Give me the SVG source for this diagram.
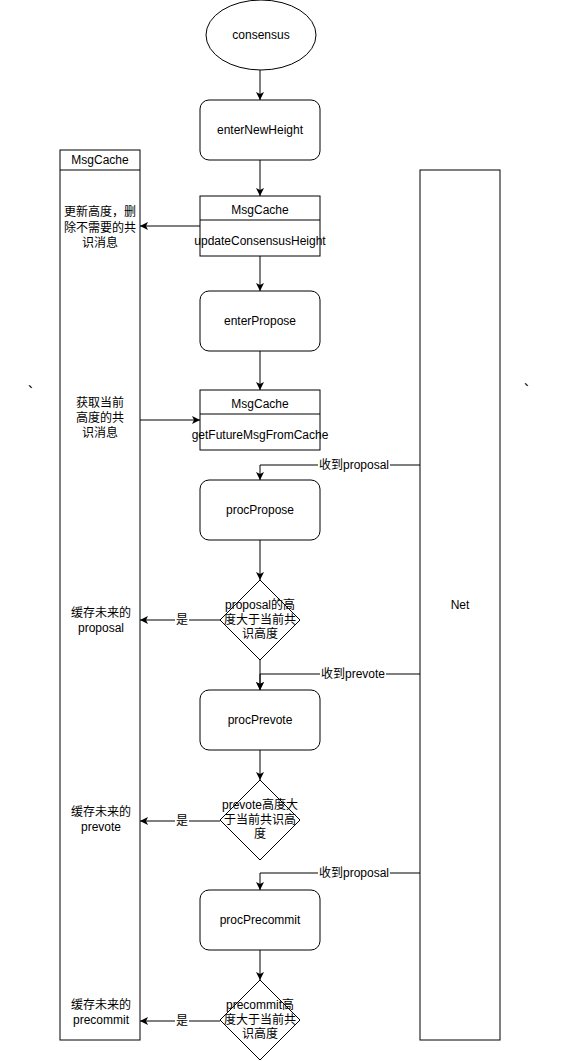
<svg xmlns="http://www.w3.org/2000/svg" width="561" height="1061" viewBox="0 0 561 1061">
<defs>
<marker id="arr" viewBox="0 0 10 10" refX="10" refY="5" markerWidth="8" markerHeight="8" markerUnits="userSpaceOnUse" orient="auto">
<path d="M0,0 L10,5 L0,10 L2.5,5 Z" fill="#000"/>
</marker>
<style>
.s{fill:#fff;stroke:#000;stroke-width:1}
.e{fill:none;stroke:#000;stroke-width:1;marker-end:url(#arr)}
.l{fill:none;stroke:#000;stroke-width:1}
text{font-family:"Liberation Sans","Noto Sans CJK SC",Arial,sans-serif;font-size:12px;fill:#000;text-anchor:middle;dominant-baseline:central}
.lb{fill:#fff;stroke:none}
</style>
</defs>
<rect width="561" height="1061" fill="#fff"/>
<g id="connectors">
<line class="e" x1="260" y1="70" x2="260" y2="100"/>
<line class="e" x1="260" y1="160" x2="260" y2="196"/>
<line class="e" x1="260" y1="256" x2="260" y2="291"/>
<line class="e" x1="260" y1="351" x2="260" y2="390"/>
<line class="e" x1="200" y1="226" x2="140" y2="226"/>
<line class="e" x1="140" y1="420" x2="200" y2="420"/>
<path class="e" d="M420,465 L260,465 L260,480"/>
<rect class="lb" x="318" y="458" width="72" height="14"/>
<text x="354" y="465">收到proposal</text>
<line class="e" x1="260" y1="540" x2="260" y2="580"/>
<line class="e" x1="220" y1="620" x2="140" y2="620"/>
<rect class="lb" x="175" y="613" width="14" height="14"/>
<text x="182" y="620">是</text>
<line class="e" x1="260" y1="660" x2="260" y2="690"/>
<path class="e" d="M420,674 L260,674 L260,690"/>
<rect class="lb" x="320" y="667" width="66" height="14"/>
<text x="353" y="674">收到prevote</text>
<line class="e" x1="260" y1="750" x2="260" y2="780"/>
<line class="e" x1="220" y1="821" x2="140" y2="821"/>
<rect class="lb" x="175" y="814" width="14" height="14"/>
<text x="182" y="821">是</text>
<path class="e" d="M420,873 L260,873 L260,890"/>
<rect class="lb" x="318" y="866" width="72" height="14"/>
<text x="354" y="873">收到proposal</text>
<line class="e" x1="260" y1="950" x2="260" y2="980"/>
<line class="e" x1="220" y1="1021" x2="140" y2="1021"/>
<rect class="lb" x="175" y="1014" width="14" height="14"/>
<text x="182" y="1021">是</text>
</g>
<g id="consensus">
<ellipse class="s" cx="261" cy="35" rx="55" ry="35"/>
<text x="261" y="35">consensus</text>
</g>
<g id="enterNewHeight">
<rect class="s" x="200" y="100" width="120" height="60" rx="9"/>
<text x="260" y="130">enterNewHeight</text>
</g>
<g id="msgcache1">
<rect class="s" x="200" y="196" width="120" height="60"/>
<line class="l" x1="200" y1="220" x2="320" y2="220"/>
<text x="260" y="210">MsgCache</text>
<text x="260" y="241">updateConsensusHeight</text>
</g>
<g id="enterPropose">
<rect class="s" x="200" y="291" width="120" height="60" rx="9"/>
<text x="260" y="321">enterPropose</text>
</g>
<g id="msgcache2">
<rect class="s" x="200" y="390" width="120" height="60"/>
<line class="l" x1="200" y1="414" x2="320" y2="414"/>
<text x="260" y="404">MsgCache</text>
<text x="260" y="435">getFutureMsgFromCache</text>
</g>
<g id="procPropose">
<rect class="s" x="200" y="480" width="120" height="60" rx="9"/>
<text x="260" y="510">procPropose</text>
</g>
<g id="decision1">
<path class="s" d="M260,580 L300,620 L260,660 L220,620 Z"/>
<text x="260" y="605">proposal的高</text>
<text x="260" y="620">度大于当前共</text>
<text x="260" y="634">识高度</text>
</g>
<g id="procPrevote">
<rect class="s" x="200" y="690" width="120" height="60" rx="9"/>
<text x="260" y="720">procPrevote</text>
</g>
<g id="decision2">
<path class="s" d="M260,780 L300,820 L260,860 L220,820 Z"/>
<text x="260" y="805">prevote高度大</text>
<text x="260" y="820">于当前共识高</text>
<text x="260" y="834">度</text>
</g>
<g id="procPrecommit">
<rect class="s" x="200" y="890" width="120" height="60" rx="9"/>
<text x="260" y="920">procPrecommit</text>
</g>
<g id="decision3">
<path class="s" d="M260,980 L300,1020 L260,1060 L220,1020 Z"/>
<text x="260" y="1005">precommit高</text>
<text x="260" y="1020">度大于当前共</text>
<text x="260" y="1034">识高度</text>
</g>
<g id="msgcache-lane">
<rect class="s" x="60" y="150" width="80" height="890"/>
<line class="l" x1="60" y1="170" x2="140" y2="170"/>
<text x="100" y="160">MsgCache</text>
<text x="100" y="212">更新高度，删</text>
<text x="100" y="228">除不需要的共</text>
<text x="100" y="243">识消息</text>
<text x="100" y="403">获取当前</text>
<text x="100" y="418">高度的共</text>
<text x="100" y="433">识消息</text>
<text x="101" y="613">缓存未来的</text>
<text x="101" y="628">proposal</text>
<text x="101" y="812">缓存未来的</text>
<text x="101" y="827">prevote</text>
<text x="101" y="1005">缓存未来的</text>
<text x="101" y="1020">precommit</text>
</g>
<g id="net">
<rect class="s" x="420" y="170" width="80" height="870"/>
<text x="460" y="605">Net</text>
</g>
<g id="marks">
<text x="34" y="384">、</text>
<text x="530" y="382">、</text>
</g>
</svg>
